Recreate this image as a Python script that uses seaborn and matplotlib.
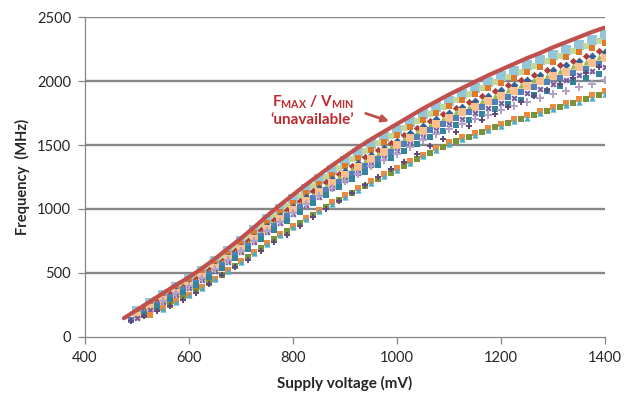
import matplotlib
matplotlib.use("Agg")
import matplotlib.pyplot as plt
import seaborn as sns
import pandas as pd

# supply voltage grids (mV); second grid is offset half a step
volts_a = [475, 500, 525, 550, 575, 600, 625, 650, 675, 700, 725, 750, 775, 800, 825, 850,
           875, 900, 925, 950, 975, 1000, 1025, 1050, 1075, 1100, 1125, 1150, 1175, 1200,
           1225, 1250, 1275, 1300, 1325, 1350, 1375, 1400]
volts_b = [488, 513, 538, 563, 588, 613, 638, 663, 688, 713, 738, 763, 788, 813, 838, 863,
           888, 913, 938, 963, 988, 1013, 1038, 1063, 1088, 1113, 1138, 1163, 1188, 1213,
           1238, 1263, 1288, 1313, 1338, 1363, 1388]

# frequency (MHz); each list runs up to the last voltage of its grid
f_red = [145, 210, 275, 340, 405, 465, 535, 610, 690, 770, 855, 945, 1030, 1110, 1190, 1265,
         1340, 1410, 1480, 1545, 1605, 1665, 1725, 1785, 1840, 1895, 1945, 1995, 2045, 2090,
         2135, 2180, 2220, 2265, 2305, 2345, 2385, 2420]
f_lightblue = [198, 262, 326, 389, 448, 517, 591, 670, 748, 832, 919, 1002, 1080, 1158, 1231,
               1305, 1373, 1441, 1505, 1564, 1622, 1682, 1741, 1795, 1849, 1898, 1946, 1994,
               2038, 2082, 2125, 2164, 2207, 2246, 2285, 2324, 2358]
f_lightgreen = [287, 350, 411, 474, 545, 620, 698, 779, 863, 947, 1026, 1104, 1179, 1251, 1320,
                1388, 1454, 1514, 1572, 1631, 1689, 1746, 1800, 1850, 1897, 1945, 1991, 2034,
                2076, 2117, 2158, 2198, 2236, 2274, 2311]
f_orange = [186, 249, 311, 374, 431, 499, 572, 649, 727, 808, 893, 974, 1050, 1126, 1198, 1269,
            1336, 1402, 1465, 1522, 1580, 1639, 1696, 1750, 1803, 1850, 1897, 1943, 1986, 2028,
            2070, 2108, 2150, 2187, 2225, 2263, 2296]
f_darkred = [208, 270, 332, 390, 452, 522, 596, 672, 751, 832, 914, 990, 1065, 1138, 1208, 1275,
             1340, 1404, 1463, 1519, 1577, 1635, 1690, 1743, 1791, 1837, 1882, 1926, 1968, 2009,
             2047, 2087, 2125, 2162, 2198, 2234]
f_darkblue = [234, 296, 357, 413, 479, 551, 627, 703, 783, 865, 943, 1017, 1092, 1161, 1231,
              1295, 1360, 1421, 1477, 1534, 1592, 1648, 1701, 1753, 1799, 1843, 1888, 1929,
              1970, 2010, 2048, 2087, 2124, 2160, 2196, 2229]
f_green = [199, 260, 320, 378, 439, 508, 581, 656, 734, 814, 893, 968, 1042, 1113, 1182, 1248,
           1311, 1374, 1432, 1488, 1545, 1602, 1656, 1708, 1756, 1801, 1844, 1887, 1928, 1968,
           2006, 2044, 2081, 2117, 2153, 2188]
f_peach = [163, 223, 284, 344, 399, 464, 535, 610, 685, 763, 844, 920, 992, 1065, 1133, 1201,
           1264, 1327, 1388, 1443, 1498, 1556, 1611, 1664, 1714, 1759, 1802, 1845, 1886, 1926,
           1964, 2001, 2039, 2075, 2110, 2145, 2178]
f_blue = [128, 187, 247, 307, 363, 423, 491, 563, 637, 713, 791, 869, 941, 1013, 1083, 1150,
          1214, 1276, 1338, 1395, 1449, 1505, 1562, 1615, 1667, 1713, 1756, 1798, 1840, 1880,
          1918, 1955, 1992, 2028, 2063, 2097, 2131]
f_purple = [150, 209, 268, 327, 381, 445, 514, 588, 662, 738, 816, 889, 960, 1031, 1097, 1163,
            1224, 1285, 1344, 1398, 1452, 1509, 1563, 1615, 1664, 1708, 1749, 1790, 1829, 1868,
            1904, 1941, 1977, 2011, 2045, 2079, 2111]
f_teal = [173, 231, 289, 345, 403, 469, 539, 613, 687, 763, 837, 907, 977, 1045, 1110, 1172,
          1232, 1292, 1347, 1400, 1455, 1510, 1563, 1613, 1659, 1700, 1740, 1780, 1818, 1854,
          1890, 1926, 1960, 1993, 2027, 2059]
f_lightpurple = [280, 340, 395, 458, 527, 600, 673, 748, 825, 897, 966, 1035, 1098, 1162, 1219,
                 1277, 1334, 1384, 1434, 1487, 1537, 1585, 1629, 1668, 1704, 1739, 1775, 1808,
                 1837, 1869, 1898, 1925, 1955, 1982, 2008]
f_orange2 = [168, 224, 279, 329, 389, 455, 525, 595, 666, 736, 802, 867, 933, 993, 1054, 1109,
             1165, 1220, 1270, 1321, 1376, 1426, 1476, 1522, 1562, 1597, 1633, 1668, 1703, 1734,
             1769, 1799, 1830, 1860, 1890, 1920]
f_olive = [248, 300, 355, 418, 485, 555, 625, 695, 763, 827, 892, 955, 1015, 1072, 1127, 1183,
           1235, 1285, 1337, 1390, 1440, 1488, 1530, 1567, 1602, 1638, 1673, 1705, 1737, 1770,
           1800, 1830, 1860, 1890]
f_aqua = [219, 274, 324, 383, 448, 518, 588, 658, 728, 793, 857, 922, 982, 1042, 1097, 1152,
          1207, 1257, 1306, 1361, 1411, 1461, 1506, 1546, 1581, 1616, 1651, 1686, 1715, 1750,
          1780, 1810, 1840, 1870, 1900]
f_purpleplus = [125, 165, 205, 243, 285, 340, 412, 480, 545, 600, 668, 740, 800, 870, 936, 1001,
                1066, 1127, 1190, 1252, 1309, 1369, 1434, 1492, 1549, 1600, 1652, 1698, 1745,
                1796, 1841, 1885, 1931, 1979, 2023, 2067, 2111]

x_ticks = [400, 600, 800, 1000, 1200, 1400]
y_ticks = [0, 500, 1000, 1500, 2000, 2500]

# (values, grid, colour, marker, size)
series = [
    (f_lightblue, volts_a, "#93C6D8", "s", 42),
    (f_lightgreen, volts_b, "#C3D69B", "s", 18),
    (f_orange, volts_a, "#DD7B2B", "s", 22),
    (f_darkred, volts_b, "#B03C3A", "D", 14),
    (f_darkblue, volts_a, "#376092", "D", 16),
    (f_green, volts_b, "#9BBB59", "^", 20),
    (f_peach, volts_a, "#FAC090", "s", 30),
    (f_blue, volts_b, "#4F81BD", "s", 16),
    (f_purple, volts_a, "#7A5C9E", "X", 20),
    (f_teal, volts_b, "#31859C", "s", 16),
    (f_lightpurple, volts_a, "#B3A2C7", "P", 30),
    (f_orange2, volts_a, "#F08A3A", "s", 22),
    (f_olive, volts_b, "#77933C", "s", 20),
    (f_aqua, volts_a, "#4BACC6", "^", 20),
    (f_purpleplus, volts_b, "#604A7B", "P", 18),
]

sns.set_theme(style="white")
plt.rcParams['font.family'] = ['Lato', 'DejaVu Sans']
plt.rcParams['mathtext.fontset'] = 'custom'
plt.rcParams['mathtext.rm'] = 'Lato'
plt.rcParams['mathtext.bf'] = 'Lato:bold'

fig = plt.figure(figsize=(6.34, 3.94), dpi=100)
ax = fig.add_axes([0.134, 0.1454, 0.82, 0.8106])

for vals, grid, col, mk, sz in series:
    df = pd.DataFrame({"volt": grid[-len(vals):], "freq": vals})
    sns.scatterplot(data=df, x="volt", y="freq", color=col, marker=mk, s=sz,
                    linewidth=0, ax=ax, zorder=3)

red = pd.DataFrame({"volt": volts_a, "freq": f_red})
sns.lineplot(data=red, x="volt", y="freq", color="#C0504D", lw=3.0, ax=ax, zorder=4)

grey = "#868686"
for yv in y_ticks[1:]:
    ax.axhline(yv, color=grey, lw=1.7, zorder=1)

ax.set_xlim(400, 1400)
ax.set_ylim(0, 2500)
ax.set_xticks(x_ticks)
ax.set_yticks(y_ticks)
sns.despine(ax=ax)
for sp in ["left", "bottom"]:
    ax.spines[sp].set_color(grey)
    ax.spines[sp].set_linewidth(0.9)
ax.tick_params(axis="both", which="both", direction="out", length=5, width=0.9,
               color=grey, labelsize=10.5, labelcolor="#262626", pad=5, bottom=True, left=True)
ax.set_xlabel("Supply voltage (mV)", fontsize=11, fontweight="bold", color="#262626", labelpad=8)
ax.set_ylabel("Frequency  (MHz)", fontsize=10.5, fontweight="bold", color="#262626", labelpad=5)

ax.text(838, 1840, r"F$_{\mathbf{MAX}}$ / V$_{\mathbf{MIN}}$", color="#C0282D",
        fontsize=11, fontweight="bold", ha="center", va="center")
ax.text(838, 1695, "\u2018unavailable\u2019", color="#C0282D",
        fontsize=11, fontweight="bold", ha="center", va="center")
ax.annotate("", xy=(990, 1680), xytext=(935, 1755),
            arrowprops=dict(arrowstyle="-|>", color="#C0504D", lw=2, mutation_scale=10))

fig.savefig("out.png", dpi=100)
